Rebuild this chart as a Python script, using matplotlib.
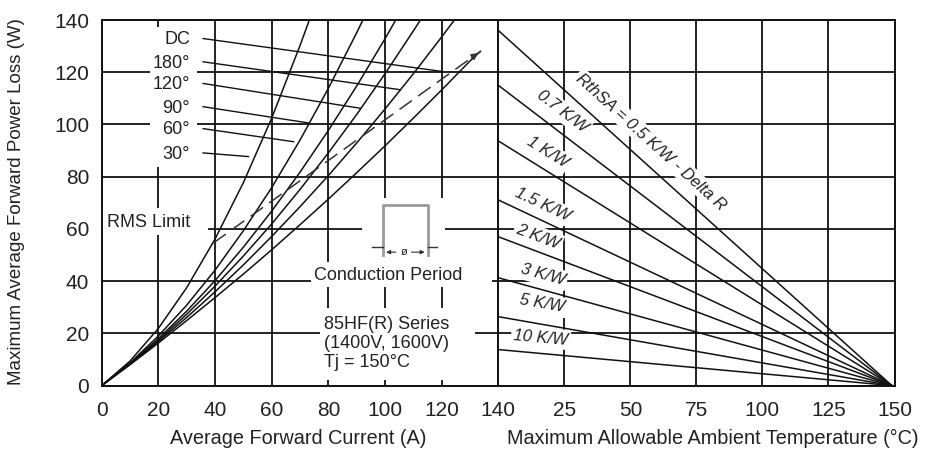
import math

import matplotlib
import matplotlib.pyplot as plt
from matplotlib.patches import Rectangle

matplotlib.use("Agg")

plt.rcParams["font.family"] = ["Liberation Sans", "DejaVu Sans"]
plt.rcParams["text.color"] = "#222222"

# left panel: power loss vs average forward current, one curve per conduction angle
i_30 = [0, 10, 20, 30, 40, 50, 60, 70, 73.3]
p_30 = [0, 9.4, 21.9, 37.5, 56.1, 77.7, 102.4, 130.2, 140]
i_60 = [0, 10, 20, 30, 40, 50, 60, 70, 80, 90, 92.2]
p_60 = [0, 8.7, 19.0, 30.8, 44.2, 59.3, 75.8, 94.0, 113.8, 135.1, 140]
i_90 = [0, 10, 20, 30, 40, 50, 60, 70, 80, 90, 100, 103.8]
p_90 = [0, 8.4, 18.0, 28.5, 40.2, 53.0, 66.8, 81.7, 97.7, 114.7, 132.8, 140]
i_120 = [0, 10, 20, 30, 40, 50, 60, 70, 80, 90, 100, 110, 112.5]
p_120 = [0, 8.3, 17.4, 27.3, 38.1, 49.6, 61.9, 75.1, 89.1, 103.8, 119.4, 135.8, 140]
i_180 = [0, 10, 20, 30, 40, 50, 60, 70, 80, 90, 100, 110, 120, 124.5]
p_180 = [0, 8.2, 16.9, 26.1, 35.9, 46.2, 57.1, 68.5, 80.4, 92.9, 105.9, 119.4, 133.5, 140]
i_dc = [0, 10, 20, 30, 40, 50, 60, 70, 80, 90, 100, 110, 120, 130, 133.7]
p_dc = [0, 8.0, 16.3, 24.9, 33.7, 42.7, 52.0, 61.6, 71.4, 81.5, 91.8, 102.4, 113.2, 124.3, 128.0]

angle_labels = ["DC", "180°", "120°", "90°", "60°", "30°"]
label_y = [132.4, 123.5, 115.2, 106.3, 97.9, 88.6]
leader_end = [(120.1, 120.3), (105.4, 113.3), (91.3, 106.2), (72.9, 100.6), (67.7, 93.4), (51.8, 87.7)]

# RMS current limit (dashed)
rms_i = [39.4, 133.7]
rms_p = [54.6, 128.0]

# right panel: allowable ambient temperature lines per sink thermal resistance
rth_labels = ["RthSA = 0.5 K/W - Delta R", "0.7 K/W", "1 K/W", "1.5 K/W",
              "2 K/W", "3 K/W", "5 K/W", "10 K/W"]
p_at_0c = [136, 115, 93.7, 71.1, 57, 41.3, 26.4, 13.8]
t_zero_loss = 149
rth_label_x = [57.9, 24.2, 18.5, 16.8, 15.1, 16.8, 16.5, 16.1]
rth_label_y = [93.3, 105.0, 89.3, 69.2, 57.1, 42.4, 31.3, 18.4]

FW, FH = 927, 451
fig = plt.figure(figsize=(FW / 100, FH / 100), dpi=100)
x0, x1, x2 = 101.7, 498.3, 894.5
ytop, ybot = 20.0, 385.6
ax1 = fig.add_axes([x0 / FW, 1 - ybot / FH, (x1 - x0) / FW, (ybot - ytop) / FH])
ax2 = fig.add_axes([x1 / FW, 1 - ybot / FH, (x2 - x1) / FW, (ybot - ytop) / FH])

line_kw = dict(color="#111111", lw=1.1, zorder=2)

for ax in (ax1, ax2):
    ax.set_ylim(0, 140)
    ax.set_yticks(range(0, 141, 20))
    ax.set_axisbelow(True)
    ax.grid(True, color="#111111", lw=1.3)
    ax.tick_params(length=0, labelsize=15, pad=9, colors="#222222")
    for sp in ax.spines.values():
        sp.set_linewidth(1.4)
        sp.set_color("#111111")

ax1.set_xlim(0, 140)
ax1.set_xticks(range(0, 141, 20))
ax1.tick_params(axis="x", pad=11)
ax2.set_xlim(0, 150)
ax2.set_xticks(range(25, 151, 25))
ax2.tick_params(axis="x", pad=11)
ax2.tick_params(axis="y", labelleft=False)

# white gaps that break the grid behind text blocks
white_boxes = [
    (17.1, 83.8, 16.6, 53.6),    # angle labels column
    (0.2, 57.7, 37.4, 10.3),     # RMS Limit
    (92.0, 47.3, 29.3, 24.6),    # conduction icon
    (74.0, 37.8, 63.9, 9.6),     # Conduction Period
    (77.1, 2.1, 54.8, 27.6),     # series text
]
for bx, by, bw, bh in white_boxes:
    ax1.add_patch(Rectangle((bx, by), bw, bh, facecolor="white", edgecolor="none", zorder=1))

for ii, pp in [(i_30, p_30), (i_60, p_60), (i_90, p_90), (i_120, p_120), (i_180, p_180), (i_dc, p_dc)]:
    ax1.plot(ii, pp, **line_kw)

ax1.plot(rms_i, rms_p, color="#333333", lw=1.1, linestyle=(0, (10, 5)), zorder=2)
ax1.annotate("", xy=(rms_i[1], rms_p[1]), xytext=(rms_i[1] - 4, rms_p[1] - 3.1),
             arrowprops=dict(arrowstyle="-|>", color="#333333", lw=1, mutation_scale=10), zorder=2)

for lab, ly, (ex, ey) in zip(angle_labels, label_y, leader_end):
    ax1.text(31.2, ly, lab, ha="right", va="center", fontsize=13, zorder=3)
    ax1.plot([35.8, ex], [ly + 0.5, ey], color="#111111", lw=1.0, zorder=2)

ax1.text(1.8, 62.4, "RMS Limit", ha="left", va="center", fontsize=13, zorder=3)

# conduction period icon
gray = "#9a9a9a"
ax1.plot([99.3, 99.3, 115.1, 115.1], [50.0, 69.2, 69.2, 50.0], color=gray, lw=2, zorder=2)
ax1.plot([95.4, 99.3], [53.2, 53.2], color="#333333", lw=1, zorder=2)
ax1.plot([115.1, 118.4], [53.2, 53.2], color="#333333", lw=1, zorder=2)
for a, b in [(104.8, 99.4), (108.4, 115.0)]:
    ax1.annotate("", xy=(b, 51.1), xytext=(a, 51.1),
                 arrowprops=dict(arrowstyle="-|>", color="#333333", lw=0.8, mutation_scale=6))
ax1.text(106.6, 51.3, "ø", ha="center", va="center", fontsize=8, zorder=3)
ax1.text(101.2, 42.0, "Conduction Period", ha="center", va="center", fontsize=13, zorder=3)
ax1.text(78.3, 16.1, "85HF(R) Series\n(1400V, 1600V)\nTj = 150°C", ha="left", va="center",
         fontsize=13, linespacing=1.15, zorder=3)

# right panel lines and rotated labels
for p0, lab, lx, ly in zip(p_at_0c, rth_labels, rth_label_x, rth_label_y):
    ax2.plot([0, t_zero_loss], [p0, 0], **line_kw)
    (ax_, ay_), (bx_, by_) = ax2.transData.transform([(0, p0), (t_zero_loss, 0)])
    ang = math.degrees(math.atan2(by_ - ay_, bx_ - ax_))
    ax2.text(lx, ly, lab, rotation=ang, rotation_mode="anchor", ha="center", va="center",
             fontsize=12, style="italic", zorder=1.5,
             bbox=dict(boxstyle="square,pad=0.15", facecolor="white", edgecolor="none"))

fig.text(17 / FW, 1 - 202 / FH, "Maximum Average Forward Power Loss (W)", rotation=90,
         ha="center", va="center", fontsize=13.5)
fig.text(298.5 / FW, 1 - 438 / FH, "Average Forward Current (A)", ha="center", va="center", fontsize=14.3)
fig.text(713 / FW, 1 - 438 / FH, "Maximum Allowable Ambient Temperature (°C)", ha="center",
         va="center", fontsize=14.3)

fig.savefig("out.png", dpi=100, facecolor="white")
